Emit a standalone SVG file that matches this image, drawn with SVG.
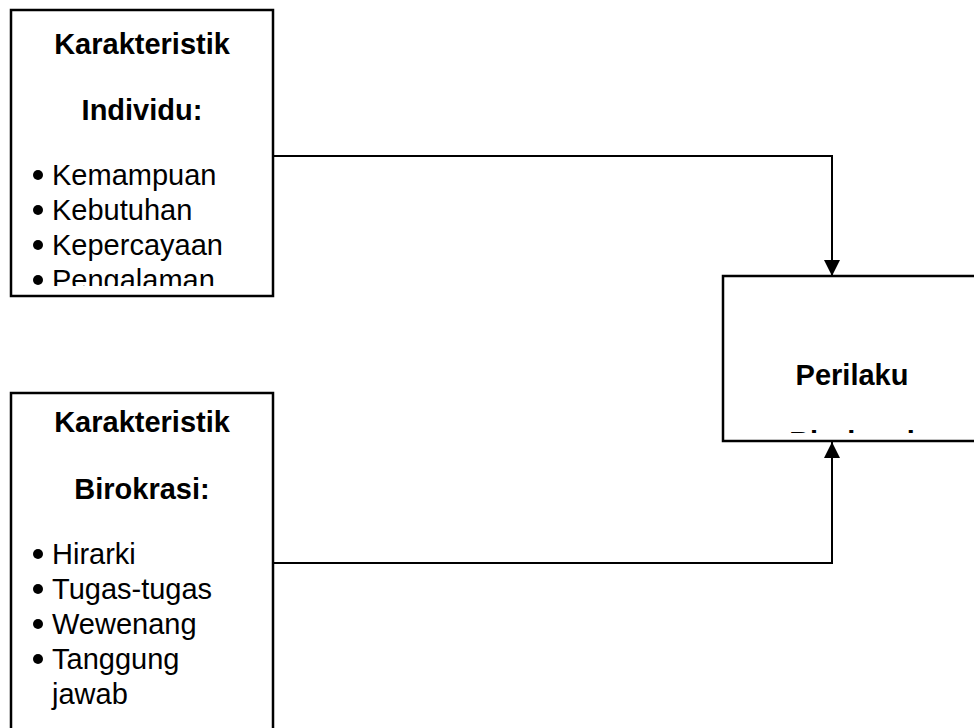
<svg xmlns="http://www.w3.org/2000/svg" width="974" height="728" viewBox="0 0 974 728">
<style>
.box{fill:#fff;stroke:#000;stroke-width:2.5}
.t{font-family:"Liberation Sans",Arial,sans-serif;font-size:29px;fill:#000}
.b{font-weight:bold;text-anchor:middle}
.bul{fill:#000}
.conn{fill:none;stroke:#000;stroke-width:2}
</style>
<defs>
<marker id="arr" viewBox="0 0 16 16" refX="16" refY="8" markerWidth="16" markerHeight="16" markerUnits="userSpaceOnUse" orient="auto">
<path d="M0,0 L16,8 L0,16 Z" fill="#000"/>
</marker>
<clipPath id="c1"><rect x="12" y="11" width="260" height="275"/></clipPath>
<clipPath id="c2"><rect x="12" y="395" width="260" height="333"/></clipPath>
<clipPath id="c3"><rect x="724" y="278" width="250" height="155"/></clipPath>
</defs>
<g id="connectors">
<polyline class="conn" points="273,156 832,156 832,276" marker-end="url(#arr)"/>
<polyline class="conn" points="273,563 832,563 832,442" marker-end="url(#arr)"/>
</g>
<g id="individu">
<rect class="box" x="11" y="10" width="262" height="286"/>
<g clip-path="url(#c1)">
<text class="t b" x="142" y="54">Karakteristik</text>
<text class="t b" x="142" y="120">Individu:</text>
<circle class="bul" cx="38" cy="175" r="5"/><text class="t" x="52" y="185">Kemampuan</text>
<circle class="bul" cx="38" cy="210" r="5"/><text class="t" x="52" y="220">Kebutuhan</text>
<circle class="bul" cx="38" cy="245" r="5"/><text class="t" x="52" y="255">Kepercayaan</text>
<circle class="bul" cx="38" cy="280" r="5"/><text class="t" x="52" y="290">Pengalaman</text>
</g>
</g>
<g id="birokrasi">
<rect class="box" x="11" y="393" width="262" height="345"/>
<g clip-path="url(#c2)">
<text class="t b" x="142" y="432">Karakteristik</text>
<text class="t b" x="142" y="499">Birokrasi:</text>
<circle class="bul" cx="38" cy="554" r="5"/><text class="t" x="52" y="564">Hirarki</text>
<circle class="bul" cx="38" cy="589" r="5"/><text class="t" x="52" y="599">Tugas-tugas</text>
<circle class="bul" cx="38" cy="624" r="5"/><text class="t" x="52" y="634">Wewenang</text>
<circle class="bul" cx="38" cy="659" r="5"/><text class="t" x="52" y="669">Tanggung</text>
<text class="t" x="52" y="704">jawab</text>
</g>
</g>
<g id="perilaku">
<rect class="box" x="723" y="276" width="260" height="165"/>
<g clip-path="url(#c3)">
<text class="t b" x="852" y="385">Perilaku</text>
<text class="t b" x="852" y="452">Birokrasi</text>
</g>
</g>
</svg>
